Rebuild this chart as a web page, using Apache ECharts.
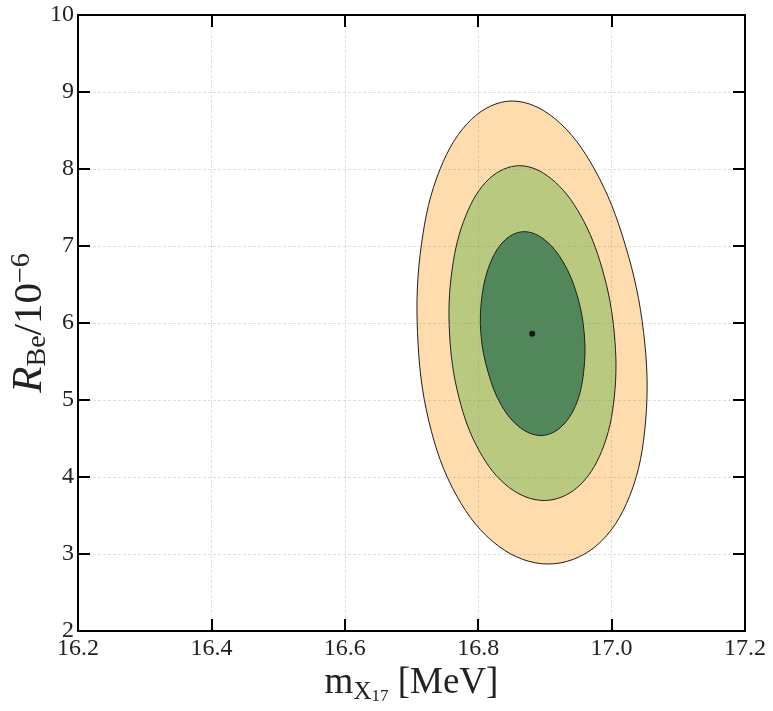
<!DOCTYPE html>
<html>
<head>
<meta charset="utf-8">
<script src="https://cdn.jsdelivr.net/npm/echarts@6/dist/echarts.min.js"></script>
<style>
  html, body { margin: 0; padding: 0; background: #fff; }
  #chart { width: 773px; height: 711px; }
</style>
</head>
<body>
<div id="chart"></div>
<script>
// contour outlines, [m_X17 (MeV), R_Be / 1e-6], clockwise from the top
var outerContour = [
    [16.851, 8.883], [16.915, 8.654], [16.974, 8.002], [17.020, 7.027],
    [17.048, 5.877], [17.051, 4.726], [17.027, 3.751], [16.976, 3.099],
    [16.905, 2.870], [16.831, 3.099], [16.768, 3.751], [16.726, 4.726],
    [16.709, 5.877], [16.715, 7.027], [16.743, 8.002], [16.791, 8.654]
];
var middleContour = [
    [16.862, 8.043], [16.909, 7.877], [16.953, 7.406], [16.986, 6.701],
    [17.004, 5.869], [17.004, 5.037], [16.985, 4.332], [16.948, 3.860],
    [16.899, 3.695], [16.847, 3.860], [16.802, 4.332], [16.771, 5.037],
    [16.757, 5.869], [16.761, 6.701], [16.782, 7.406], [16.817, 7.877]
];
var innerContour = [
    [16.869, 7.186], [16.899, 7.085], [16.927, 6.798], [16.948, 6.369],
    [16.959, 5.862], [16.958, 5.356], [16.946, 4.927], [16.923, 4.640],
    [16.894, 4.539], [16.863, 4.640], [16.835, 4.927], [16.815, 5.356],
    [16.804, 5.862], [16.806, 6.369], [16.819, 6.798], [16.841, 7.085]
];
var bestFit = [[16.881, 5.86]];

var xTicks = [16.2, 17.2, 0.2];   // min, max, step
var yTicks = [2, 10, 1];

var font = '"Liberation Serif", "DejaVu Serif", serif';
var gridLine = { show: true, lineStyle: { color: 'rgba(128,128,128,0.25)', width: 1, type: [3, 2] } };

function contour(points, fill) {
    return {
        type: 'custom',
        data: points,
        encode: { x: 0, y: 1 },
        silent: true,
        z: 2,
        renderItem: function (params, api) {
            if (params.dataIndex !== 0) return null;
            var pts = points.map(function (p) { return api.coord(p); });
            return {
                type: 'polygon',
                shape: { points: pts, smooth: 0.36 },
                style: { fill: fill, stroke: '#1e1e1e', lineWidth: 1 }
            };
        }
    };
}

function frameAxis(extra) {
    var base = {
        scale: true,
        z: 10,
        axisLine: { show: true, onZero: false, lineStyle: { color: '#000', width: 2 } },
        axisTick: { show: true, inside: true, length: 12, lineStyle: { color: '#000', width: 2 } },
        axisLabel: { show: false },
        splitLine: { show: false }
    };
    for (var k in extra) base[k] = extra[k];
    return base;
}

var chart = echarts.init(document.getElementById('chart'), null, { renderer: 'canvas' });

chart.setOption({
    animation: false,
    backgroundColor: '#fff',
    grid: { left: 78, right: 28, top: 15, bottom: 80, containLabel: false, outerBoundsMode: 'none' },
    xAxis: [
        frameAxis({
            type: 'value', position: 'bottom',
            min: xTicks[0], max: xTicks[1], interval: xTicks[2],
            axisLabel: {
                show: true, margin: 6, color: '#222', fontFamily: font, fontSize: 24,
                formatter: function (v) { return v.toFixed(1); }
            },
            splitLine: gridLine,
            name: '{m|m}{s|X}{ss|17}{m| [MeV]}',
            nameLocation: 'middle',
            nameGap: 30,
            nameMoveOverlap: false,
            nameTextStyle: {
                rich: {
                    m: { fontFamily: font, fontSize: 37, lineHeight: 44, color: '#222' },
                    s: { fontFamily: font, fontSize: 25, lineHeight: 24, verticalAlign: 'bottom', color: '#222' },
                    ss: { fontFamily: font, fontSize: 17, lineHeight: 10, verticalAlign: 'bottom', color: '#222' }
                }
            }
        }),
        frameAxis({
            type: 'value', position: 'top',
            min: xTicks[0], max: xTicks[1], interval: xTicks[2]
        })
    ],
    yAxis: [
        frameAxis({
            type: 'value', position: 'left',
            min: yTicks[0], max: yTicks[1], interval: yTicks[2],
            axisLabel: { show: true, margin: 4, color: '#222', fontFamily: font, fontSize: 24 },
            splitLine: gridLine,
            name: '{i|R}{s|Be}{m|/10}{p|\u22126}',
            nameLocation: 'middle',
            nameRotate: 90,
            nameGap: 26,
            nameMoveOverlap: false,
            nameTextStyle: {
                rich: {
                    i: { fontFamily: font, fontStyle: 'italic', fontSize: 43, lineHeight: 44, color: '#222' },
                    m: { fontFamily: font, fontSize: 41, lineHeight: 44, color: '#222' },
                    s: { fontFamily: font, fontSize: 28, lineHeight: 24, verticalAlign: 'bottom', color: '#222' },
                    p: { fontFamily: font, fontSize: 28, lineHeight: 24, verticalAlign: 'top', color: '#222' }
                }
            }
        }),
        frameAxis({
            type: 'value', position: 'right',
            min: yTicks[0], max: yTicks[1], interval: yTicks[2]
        })
    ],
    series: [
        contour(outerContour, '#fedcae'),
        contour(middleContour, '#b9ca80'),
        contour(innerContour, '#52875b'),
        {
            type: 'scatter',
            data: bestFit,
            symbol: 'circle',
            symbolSize: 6,
            itemStyle: { color: '#000' },
            silent: true,
            z: 20
        }
    ]
});
</script>
</body>
</html>
